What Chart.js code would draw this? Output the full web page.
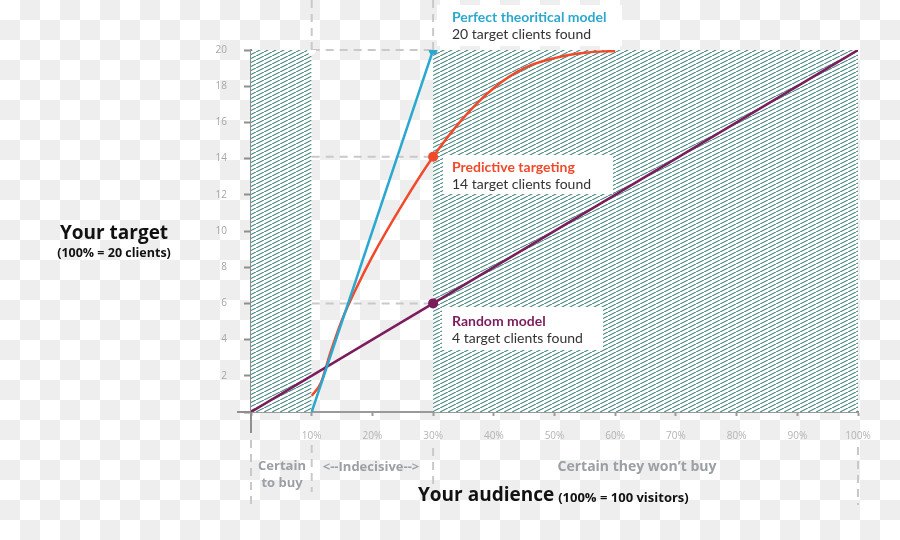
<!DOCTYPE html>
<html>
<head>
<meta charset="utf-8">
<script src="https://cdn.jsdelivr.net/npm/chart.js@4.4.1/dist/chart.umd.min.js"></script>
<style>
  html, body { margin: 0; padding: 0; }
  body {
    width: 900px; height: 540px; overflow: hidden;
    background: repeating-conic-gradient(#eeeeee 0 25%, #ffffff 0 50%) 0 0 / 40px 40px;
  }
  #wrap { position: relative; width: 900px; height: 540px; }
</style>
</head>
<body>
<div id="wrap"><canvas id="myChart"></canvas></div>
<script>
// ticks
const xTickValues = [0, 10, 20, 30, 40, 50, 60, 70, 80, 90, 100];
const yTickValues = [0, 2, 4, 6, 8, 10, 12, 14, 16, 18, 20];

// series (x = % of audience, y = target clients)
const perfectX = [10, 30];
const perfectY = [0, 20];
const predictiveX = [10, 11.5, 13, 15, 17, 20, 25, 30, 35, 40, 45, 50, 55, 60];
const predictiveY = [0.9, 1.6, 3.2, 5.1, 6.6, 8.6, 11.5, 14.1, 16.25, 17.9, 19.0, 19.55, 19.85, 19.95];
const randomX = [0, 30, 100];
const randomY = [0, 6, 20];

// shaded zones
const buyZoneX = [0, 10];
const wontBuyZoneX = [30, 100];
const zoneTop = 20;

// guide lines
const guideY = [20, 14.1, 6];
const guideFrom = 10;
const guideTo = 30;

const toPoints = (xs, ys) => xs.map((x, i) => ({ x: x, y: ys[i] }));

function makeHatch() {
  const c = document.createElement('canvas');
  c.width = 8;
  c.height = 4;
  const g = c.getContext('2d');
  g.fillStyle = '#ffffff';
  g.fillRect(0, 0, 8, 4);
  g.strokeStyle = '#3f837c';
  g.lineWidth = 1.1;
  g.beginPath();
  g.moveTo(-8, 8);
  g.lineTo(16, -4);
  g.stroke();
  return g.createPattern(c, 'repeat');
}
const hatch = makeHatch();

const guides = {
  id: 'guides',
  beforeDatasetsDraw(chart) {
    const { ctx, scales: { x, y } } = chart;
    ctx.save();
    ctx.strokeStyle = '#c9c9c9';
    ctx.lineWidth = 2;
    ctx.setLineDash([8, 6]);
    guideY.forEach(v => {
      ctx.beginPath();
      ctx.moveTo(x.getPixelForValue(guideFrom), y.getPixelForValue(v));
      ctx.lineTo(x.getPixelForValue(guideTo), y.getPixelForValue(v));
      ctx.stroke();
    });
    ctx.restore();
  },
  afterDraw(chart) {
    const { ctx, scales: { x, y } } = chart;
    const top = y.getPixelForValue(zoneTop);
    const base = y.getPixelForValue(0);
    ctx.save();
    // dashed verticals above and below the plot
    ctx.strokeStyle = '#c9c9c9';
    ctx.lineWidth = 2;
    ctx.setLineDash([8, 6]);
    [[guideFrom, 0, top], [guideTo, 0, top], [0, 440, 505], [guideFrom, 445, 492],
     [guideTo, 448, 498], [100, 447, 505]].forEach(([v, a, b]) => {
      const px = x.getPixelForValue(v);
      ctx.beginPath();
      ctx.moveTo(px, a);
      ctx.lineTo(px, b);
      ctx.stroke();
    });
    ctx.setLineDash([]);
    // axis stubs
    ctx.strokeStyle = '#8f8f8f';
    ctx.lineWidth = 2;
    const x0 = x.getPixelForValue(0);
    ctx.beginPath();
    ctx.moveTo(x0 - 14, base);
    ctx.lineTo(x0, base);
    ctx.moveTo(x0, base);
    ctx.lineTo(x0, base + 21);
    ctx.stroke();

    // annotation boxes
    const boxes = [
      { x: 437, y: 5, w: 185, h: 41, t: 17, s: 34, title: 'Perfect theoritical model', sub: '20 target clients found', color: '#2ba8cf' },
      { x: 443, y: 155, w: 170, h: 39, t: 167, s: 184, title: 'Predictive targeting', sub: '14 target clients found', color: '#f04a2b' },
      { x: 442, y: 307, w: 161, h: 43, t: 321, s: 338, title: 'Random model', sub: '4 target clients found', color: '#7b1c5c' }
    ];
    ctx.textBaseline = 'middle';
    ctx.textAlign = 'left';
    boxes.forEach(b => {
      ctx.fillStyle = '#ffffff';
      ctx.fillRect(b.x, b.y, b.w, b.h);
      ctx.fillStyle = b.color;
      ctx.font = 'bold 14px Lato';
      ctx.fillText(b.title, 452, b.t);
      ctx.fillStyle = '#333333';
      ctx.font = '14px Lato';
      ctx.fillText(b.sub, 452, b.s);
    });

    // zone labels
    ctx.textAlign = 'center';
    ctx.fillStyle = '#9aa0a4';
    ctx.font = 'bold 13px "Open Sans"';
    ctx.fillText('Certain', 282, 466);
    ctx.fillText('to buy', 282, 483);
    ctx.fillText('<--Indecisive-->', 371, 467);
    ctx.font = 'bold 14px "Open Sans"';
    ctx.fillText('Certain they won\u2019t buy', 637, 467);

    // axis titles
    ctx.fillStyle = '#111111';
    ctx.font = 'bold 19px "Open Sans"';
    ctx.fillText('Your target', 114, 234);
    ctx.font = 'bold 12.5px "Open Sans"';
    ctx.fillText('(100% = 20 clients)', 114, 253);
    ctx.textAlign = 'left';
    ctx.font = 'bold 19px "Open Sans"';
    ctx.fillText('Your audience', 418, 496);
    const w = ctx.measureText('Your audience').width;
    ctx.font = 'bold 13px "Open Sans"';
    ctx.fillText('(100% = 100 visitors)', 418 + w + 4, 498);
    ctx.restore();
  }
};

new Chart(document.getElementById('myChart'), {
  type: 'line',
  data: {
    datasets: [
      {
        label: 'Perfect theoritical model',
        data: toPoints(perfectX, perfectY),
        borderColor: '#2ba8cf',
        backgroundColor: '#2ba8cf',
        borderWidth: 2.5,
        pointRadius: [0, 4.5],
        pointBorderWidth: 0,
        order: 1
      },
      {
        label: 'Random model',
        data: toPoints(randomX, randomY),
        borderColor: '#7b1c5c',
        backgroundColor: '#7b1c5c',
        borderWidth: 2.5,
        pointRadius: [0, 5, 0],
        pointBorderWidth: 0,
        order: 2
      },
      {
        label: 'Predictive targeting',
        data: toPoints(predictiveX, predictiveY),
        borderColor: '#f04a2b',
        backgroundColor: '#f04a2b',
        borderWidth: 2.5,
        cubicInterpolationMode: 'monotone',
        pointRadius: predictiveX.map(v => v === 30 ? 5 : 0),
        pointBorderWidth: 0,
        order: 3
      },
      {
        label: 'corner',
        data: [{ x: guideFrom, y: zoneTop }],
        showLine: false,
        pointRadius: 4.5,
        pointBackgroundColor: '#ffffff',
        pointBorderWidth: 0,
        order: 4
      },
      {
        label: 'Certain to buy',
        data: buyZoneX.map(v => ({ x: v, y: zoneTop })),
        fill: 'origin',
        backgroundColor: hatch,
        borderWidth: 0,
        pointRadius: 0,
        order: 10
      },
      {
        label: 'Certain they won\u2019t buy',
        data: wontBuyZoneX.map(v => ({ x: v, y: zoneTop })),
        fill: 'origin',
        backgroundColor: hatch,
        borderWidth: 0,
        pointRadius: 0,
        order: 11
      }
    ]
  },
  plugins: [guides],
  options: {
    responsive: true,
    maintainAspectRatio: false,
    animation: false,
    layout: { padding: { left: 0, right: 42, top: 50, bottom: 0 } },
    plugins: {
      legend: { display: false },
      tooltip: { enabled: false }
    },
    scales: {
      x: {
        type: 'linear',
        min: 0,
        max: 100,
        afterBuildTicks: s => { s.ticks = xTickValues.map(v => ({ value: v })); },
        afterFit: s => { s.height = 128; },
        grid: { drawOnChartArea: false, drawTicks: true, tickLength: 4, tickColor: '#9a9a9a', tickWidth: 2 },
        border: { color: '#9a9a9a', width: 2 },
        ticks: {
          padding: 14,
          color: '#b3b3b3',
          font: { size: 10, family: '"Open Sans"' },
          maxRotation: 0,
          callback: v => v === 0 ? '' : v + '%'
        }
      },
      y: {
        min: 0,
        max: 20,
        afterBuildTicks: s => { s.ticks = yTickValues.map(v => ({ value: v })); },
        afterFit: s => { s.width = 251; },
        grid: { drawOnChartArea: false, drawTicks: true, tickLength: 7, tickColor: '#8f8f8f', tickWidth: 2 },
        border: { color: '#8f8f8f', width: 2 },
        ticks: {
          padding: 17,
          color: '#a6a6a6',
          font: { size: 10, family: '"Open Sans"' },
          callback: v => v === 0 ? '' : v
        }
      }
    }
  }
});
</script>
</body>
</html>
